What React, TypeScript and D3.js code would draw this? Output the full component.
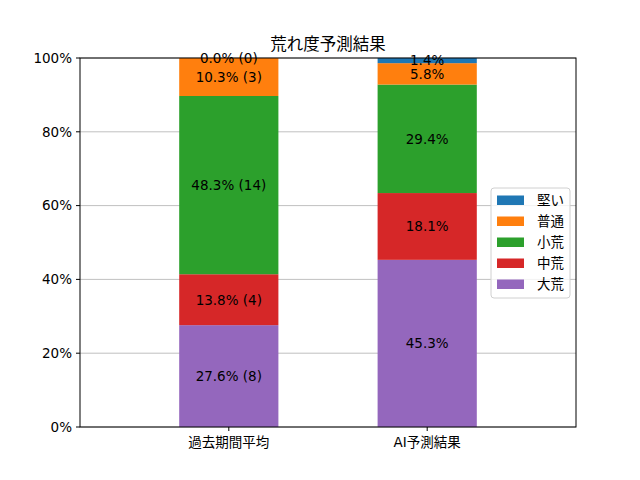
import * as d3 from "d3";

const categories = ["過去期間平均", "AI予測結果"];
const levels = ["大荒", "中荒", "小荒", "普通", "堅い"];
const colors = ["#9467bd", "#d62728", "#2ca02c", "#ff7f0e", "#1f77b4"];
// percentages per level, one array per category
const pastPct = [27.6, 13.8, 48.3, 10.3, 0.0];
const pastCounts = [8, 4, 14, 3, 0];
const aiPct = [45.3, 18.1, 29.4, 5.8, 1.4];
const yTicks = [0, 20, 40, 60, 80, 100];

const W = 640;
const H = 480;
const margin = { top: 58, right: 64, bottom: 53, left: 80 };
const font = "'DejaVu Sans', 'Noto Sans CJK JP', sans-serif";

export default function App() {
  const iw = W - margin.left - margin.right;
  const ih = H - margin.top - margin.bottom;

  const x = d3.scaleLinear().domain([-0.75, 1.75]).range([0, iw]);
  const y = d3.scaleLinear().domain([0, 100]).range([ih, 0]);
  const barW = x(0.5) - x(0);

  const series = [
    { pct: pastPct, label: (i: number) => `${pastPct[i].toFixed(1)}% (${pastCounts[i]})` },
    { pct: aiPct, label: (i: number) => `${aiPct[i].toFixed(1)}%` },
  ];

  // stack each category's levels bottom-up
  const segs = series.map((s, ci) => {
    const cum = d3.cumsum(s.pct);
    return s.pct.map((v, li) => ({
      ci,
      li,
      y0: cum[li] - v,
      y1: cum[li],
      text: s.label(li),
    }));
  });

  const legendItems = levels.map((l, i) => ({ l, c: colors[i] })).reverse();

  return (
    <svg width={W} height={H} style={{ display: "block", position: "absolute", left: 0, top: 0 }} fontFamily={font}>
      <rect width={W} height={H} fill="#fff" />
      <text x={margin.left + iw / 2} y={50} textAnchor="middle" fontSize={16.5}>
        荒れ度予測結果
      </text>
      <g transform={`translate(${margin.left},${margin.top})`}>
        {yTicks.map((t) => (
          <line key={t} x1={0} x2={iw} y1={y(t)} y2={y(t)} stroke="#b0b0b0" strokeWidth={0.8} />
        ))}
        {segs.flat().map((s) => (
          <rect
            key={`${s.ci}-${s.li}`}
            x={x(s.ci) - barW / 2}
            width={barW}
            y={y(s.y1)}
            height={y(s.y0) - y(s.y1)}
            fill={colors[s.li]}
          />
        ))}
        {segs.flat().map((s) => (
          <text
            key={`t${s.ci}-${s.li}`}
            x={x(s.ci)}
            y={y((s.y0 + s.y1) / 2)}
            dy="0.36em"
            textAnchor="middle"
            fontSize={13.5}
            fill="#000"
          >
            {s.text}
          </text>
        ))}
        <rect x={0} y={0} width={iw} height={ih} fill="none" stroke="#000" strokeWidth={1} />
        {yTicks.map((t) => (
          <g key={`y${t}`} transform={`translate(0,${y(t)})`}>
            <line x1={-4} x2={0} stroke="#000" />
            <text x={-8} dy="0.36em" textAnchor="end" fontSize={13.5}>
              {`${t}%`}
            </text>
          </g>
        ))}
        {categories.map((c, i) => (
          <g key={c} transform={`translate(${x(i)},${ih})`}>
            <line y1={0} y2={4} stroke="#000" />
            <text y={20} textAnchor="middle" fontSize={13.5}>
              {c}
            </text>
          </g>
        ))}
      </g>
      <g transform="translate(491,188)">
        <rect width={79} height={110} rx={3} fill="#fff" fillOpacity={0.8} stroke="#d0d0d0" />
        {legendItems.map((d, i) => (
          <g key={d.l} transform={`translate(6,${12 + i * 21})`}>
            <rect x={0} y={-4.5} width={27} height={9.5} fill={d.c} />
            <text x={40} dy="0.36em" fontSize={13.5}>
              {d.l}
            </text>
          </g>
        ))}
      </g>
    </svg>
  );
}
